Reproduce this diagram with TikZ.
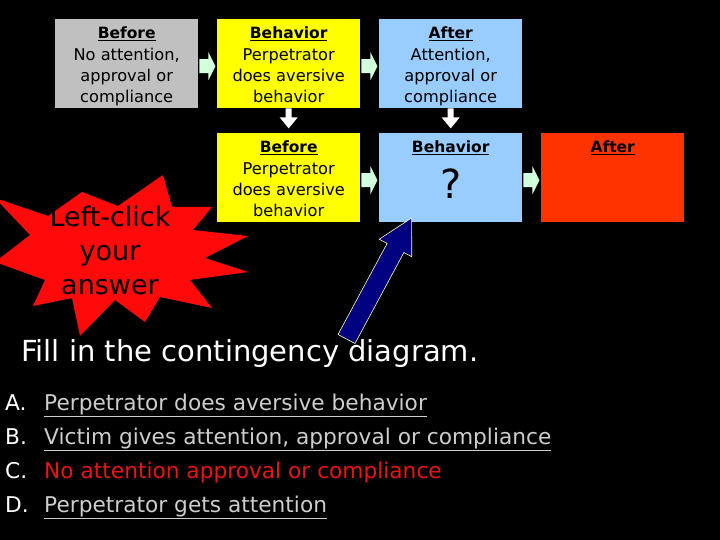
\documentclass[tikz,border=0pt]{standalone}
\usepackage{fontspec}
\setmainfont{DejaVu Sans}
\usetikzlibrary{calc}
\definecolor{boxgray}{RGB}{192,192,192}
\definecolor{boxyellow}{RGB}{255,255,0}
\definecolor{boxblue}{RGB}{153,204,255}
\definecolor{boxred}{RGB}{255,51,0}
\definecolor{arrgreen}{RGB}{210,255,220}
\definecolor{burst}{RGB}{255,10,10}
\definecolor{navy}{RGB}{0,0,128}
\definecolor{paleedge}{RGB}{255,255,170}
\definecolor{optgray}{RGB}{205,205,205}
\definecolor{optred}{RGB}{235,20,20}
\tikzset{
  cbox/.style={rectangle, minimum width=143pt, minimum height=89pt, inner sep=0pt, anchor=north west},
  boxtext/.style={anchor=north, align=center, inner sep=0pt, text=black, font=\fontsize{16.2}{21}\selectfont},
  opt/.style={anchor=base west, inner sep=0pt, font=\fontsize{21.7}{26}\selectfont},
  garr/.pic={\fill[arrgreen] (1,-7) -- (10,-7) -- (10,-14) -- (17,0) -- (10,14) -- (10,7) -- (1,7) -- cycle;},
  warr/.pic={\fill[white] (-3,0) -- (3,0) -- (3,9) -- (9,9) -- (0,20) -- (-9,9) -- (-3,9) -- cycle;}
}
\newcommand{\ttlu}[1]{{\fontsize{15.5}{21}\selectfont\bfseries\underline{#1}}}
\begin{document}
\begin{tikzpicture}[x=1pt,y=-1pt]
\fill[black] (0,0) rectangle (720,540);
\useasboundingbox (0,0) rectangle (720,540);

% boxes
\node[cbox, fill=boxgray]   (bef1) at (55,19)  {};
\node[cbox, fill=boxyellow] (beh1) at (217,19) {};
\node[cbox, fill=boxblue]   (aft1) at (379,19) {};
\node[cbox, fill=boxyellow] (bef2) at (217,133) {};
\node[cbox, fill=boxblue]   (beh2) at (379,133) {};
\node[cbox, fill=boxred]    (aft2) at (541,133) {};

% texts
\node[boxtext] (t1) at ($(bef1.north)+(0,7.5)$) {\ttlu{Before}\\[1pt] No attention,\\ approval or\\ compliance};
\node[boxtext] (t2) at ($(beh1.north)+(0,7.5)$) {\ttlu{Behavior}\\[1pt] Perpetrator\\ does aversive\\ behavior};
\node[boxtext] (t3) at ($(aft1.north)+(0,7.5)$) {\ttlu{After}\\[1pt] Attention,\\ approval or\\ compliance};
\node[boxtext] (t4) at ($(bef2.north)+(0,7.5)$) {\ttlu{Before}\\[1pt] Perpetrator\\ does aversive\\ behavior};
\node[boxtext] (t5) at ($(beh2.north)+(0,7.5)$) {\ttlu{Behavior}};
\node[inner sep=0pt, font=\fontsize{40}{40}\selectfont] (q) at ($(beh2.center)+(0,5.5)$) {?};
\node[boxtext] (t6) at ($(aft2.north)+(0,7.5)$) {\ttlu{After}};

% green arrows
\pic at ($(bef1.east)+(0,2.5)$) {garr};
\pic at ($(beh1.east)+(0,2.5)$) {garr};
\pic at ($(bef2.east)+(0,2.5)$) {garr};
\pic at ($(beh2.east)+(0,2.5)$) {garr};

% white down arrows
\pic at (beh1.south) {warr};
\pic at (aft1.south) {warr};

% starburst
\fill[burst] (-5,198) -- (48,216) -- (82,192) -- (118,206) -- (163,175) -- (172,207)
  -- (212,207) -- (193,230) -- (248,236) -- (205,258) -- (248,272) -- (190,280)
  -- (212,308) -- (160,297) -- (145,322) -- (115,300) -- (80,336) -- (72,298)
  -- (33,306) -- (45,280) -- (-5,262) -- (30,235) -- cycle;
\node[align=center, inner sep=0pt, font=\fontsize{27}{34}\selectfont, text=black] (burstlabel) at (110,250) {Left-click\\ your\\ answer};

% blue arrow
\filldraw[fill=navy, draw=paleedge, line width=0.6pt, line join=miter]
  (411.6,218) -- (411.8,256.8) -- (403.9,252.5) -- (355,343.5) -- (338,334.5)
  -- (387.1,243.5) -- (379.2,239.2) -- cycle;

% instruction
\node[anchor=base west, inner sep=0pt, text=white, font=\fontsize{29}{34}\selectfont] (fill) at (21,361) {Fill in the contingency diagram.};

% options
\node[opt, text=white] (la) at (5,410) {A.};
\node[opt, text=white] (lb) at (5,444) {B.};
\node[opt, text=white] (lc) at (5,478) {C.};
\node[opt, text=white] (ld) at (5,512) {D.};
\node[opt, text=optgray] (oa) at (44,410) {\underline{Perpetrator does aversive behavior}};
\node[opt, text=optgray] (ob) at (44,444) {\underline{Victim gives attention, approval or compliance}};
\node[opt, text=optred]  (oc) at (44,478) {No attention approval or compliance};
\node[opt, text=optgray] (od) at (44,512) {\underline{Perpetrator gets attention}};
\end{tikzpicture}
\end{document}
